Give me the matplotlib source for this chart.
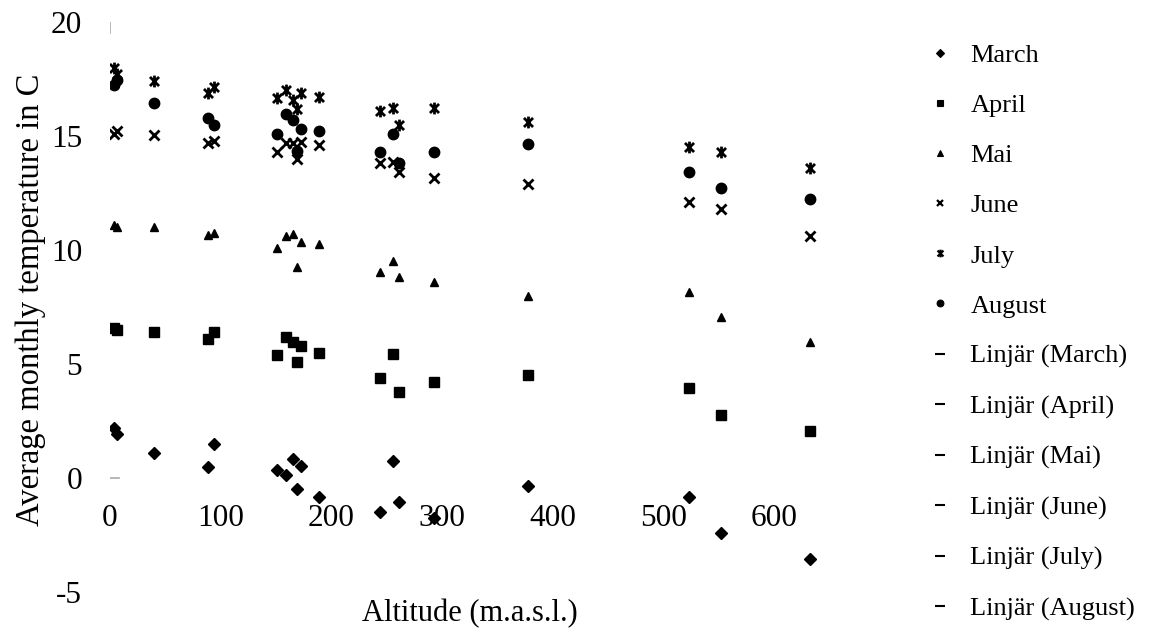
import matplotlib
matplotlib.use("Agg")
import matplotlib.pyplot as plt
from matplotlib.path import Path
from matplotlib.lines import Line2D

plt.rcParams['font.family'] = ['Liberation Serif', 'DejaVu Serif']

# Station altitudes (m.a.s.l.)
altitude = [4, 6, 40, 89, 94, 151, 159, 165, 169, 173, 189,
            244, 256, 261, 293, 378, 523, 552, 632]

# Average monthly temperatures per station (deg C)
march = [2.2, 1.95, 1.1, 0.5, 1.5, 0.35, 0.13, 0.83, -0.48, 0.53, -0.83,
         -1.5, 0.75, -1.05, -1.75, -0.35, -0.83, -2.4, -3.55]
april = [6.6, 6.5, 6.4, 6.1, 6.4, 5.4, 6.2, 5.95, 5.1, 5.8, 5.5,
         4.4, 5.45, 3.75, 4.2, 4.5, 3.95, 2.75, 2.05]
mai = [11.1, 11.0, 11.0, 10.65, 10.75, 10.1, 10.6, 10.7, 9.25, 10.35, 10.25,
       9.05, 9.5, 8.8, 8.6, 8.0, 8.15, 7.05, 5.95]
june = [15.1, 15.2, 15.05, 14.7, 14.8, 14.3, 14.7, 14.7, 14.0, 14.75, 14.6,
        13.8, 13.85, 13.4, 13.15, 12.9, 12.1, 11.8, 10.6]
july = [18.0, 17.7, 17.4, 16.9, 17.15, 16.65, 17.0, 16.6, 16.2, 16.9, 16.7,
        16.1, 16.25, 15.5, 16.25, 15.6, 14.5, 14.3, 13.6]
august = [17.25, 17.45, 16.45, 15.8, 15.5, 15.1, 15.95, 15.7, 14.35, 15.3, 15.2,
          14.3, 15.1, 13.8, 14.3, 14.65, 13.4, 12.7, 12.25]

months = ['March', 'April', 'Mai', 'June', 'July', 'August']

# Excel-style "star": an x with a vertical bar
star = Path([(-1, -1), (1, 1), (-1, 1), (1, -1), (0, -1.3), (0, 1.3)],
            [Path.MOVETO, Path.LINETO, Path.MOVETO, Path.LINETO,
             Path.MOVETO, Path.LINETO])

# marker, size, edge width
styles = [
    ('D', 6.0, 1.0),
    ('s', 7.0, 1.0),
    ('^', 6.0, 1.0),
    ('x', 6.5, 2.0),
    (star, 8.5, 2.0),
    ('o', 7.5, 1.0),
]

fig = plt.figure(figsize=(11.49, 6.36), dpi=100)
ax = fig.add_axes([0.0957, 0.0692, 0.6745, 0.8962])

handles = []
for name, values, (mk, ms, mew) in zip(months,
                                       [march, april, mai, june, july, august],
                                       styles):
    ax.plot(altitude, values, linestyle='none', marker=mk, markersize=ms,
            color='black', markeredgewidth=mew, label=name)
    handles.append(Line2D([], [], linestyle='none', marker=mk, markersize=ms * 0.65,
                          color='black', markeredgewidth=mew * 0.8, label=name))

for name in months:
    handles.append(Line2D([], [], linestyle='none', marker='_', markersize=7,
                          markeredgewidth=1.5, color='black',
                          label=f'Linjär ({name})'))

ax.set_xlim(0, 700)
ax.set_ylim(-5, 20)
ax.set_xticks([0, 100, 200, 300, 400, 500, 600])
ax.set_yticks([-5, 0, 5, 10, 15, 20])
ax.set_yticklabels(['-5', '0', '5', '10', '15', '20'])

for s in ax.spines.values():
    s.set_visible(False)
ax.spines['bottom'].set_position(('data', 0))
ax.tick_params(axis='x', length=0, pad=19, labelsize=22.5)
ax.tick_params(axis='y', length=0, pad=20, labelsize=22.5)

# faint remnants of the axis lines
ax.axvline(0, ymin=0.98, ymax=1.0, color='#aaaaaa', lw=1.2)
ax.axhline(0, xmin=0.0, xmax=0.012, color='#aaaaaa', lw=1.2)

ax.set_xlabel('Altitude (m.a.s.l.)', fontsize=22)
ax.set_ylabel('Average monthly temperature in C', fontsize=23.5)
ax.xaxis.set_label_coords(0.4645, -0.012)
ax.yaxis.set_label_coords(-0.083, 0.512)

fig.legend(handles=handles, loc='upper left', bbox_to_anchor=(0.797, 0.948),
           frameon=False, fontsize=19, labelspacing=1.01, handlelength=1.0,
           handletextpad=0.67, borderaxespad=0)

fig.savefig('out.png', dpi=100)
